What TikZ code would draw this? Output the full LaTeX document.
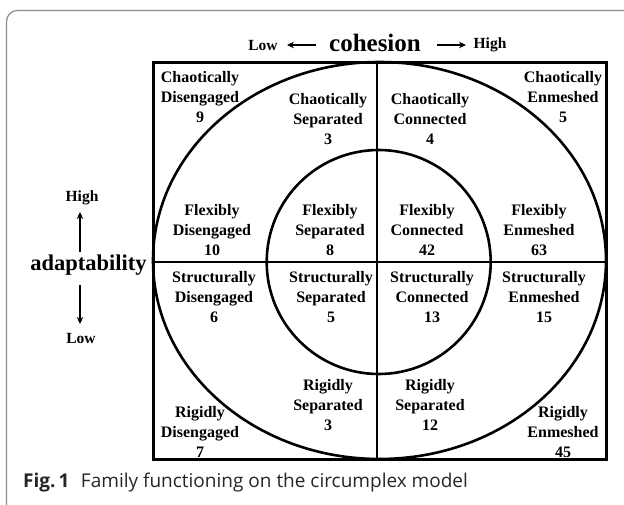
\documentclass[tikz,border=0pt]{standalone}
\usepackage{fontspec}
\setmainfont{Liberation Serif}
\newfontfamily\capfont{Open Sans}
\usetikzlibrary{arrows.meta}
\begin{document}
\begin{tikzpicture}[x=1pt,y=-1pt,
  cell/.style={align=center,inner sep=0pt,font=\fontsize{16}{19.8}\selectfont\bfseries},
  small/.style={inner sep=0pt,font=\fontsize{15.5}{18}\selectfont\bfseries},
  axisarrow/.style={line width=2.4pt,-{Stealth[length=7pt,width=6.5pt]}},
  frame/.style={draw=black!45,line width=1.2pt,rounded corners=11pt}]
\useasboundingbox (0,0) rectangle (624,504);
\draw[frame] (6.5,10.5) rectangle (680,540);
% grid
\draw[line width=3pt] (153,62) rectangle (606,459);
\draw[line width=2.2pt] (377,62) -- (377,459);
\draw[line width=2.2pt] (153,262) -- (606,262);
\draw[line width=2.6pt] (379.5,260.5) ellipse [x radius=226.5pt, y radius=198.5pt];
\draw[line width=2.6pt] (378.7,262) circle [radius=112pt];
% axis labels
\node[inner sep=0pt,font=\fontsize{25}{25}\selectfont\bfseries] (coh) at (375,43) {cohesion};
\node[small] (clow) at (263,45) {Low};
\node[small] (chigh) at (490,45) {High};
\coordinate (la1) at (316,45); \coordinate (la2) at (287,45);
\coordinate (ra1) at (437,45); \coordinate (ra2) at (466,45);
\draw[axisarrow] (la1) -- (la2);
\draw[axisarrow] (ra1) -- (ra2);
\node[inner sep=0pt,font=\fontsize{22.5}{22.5}\selectfont\bfseries] (ada) at (88.5,265) {adaptability};
\node[small] (ahigh) at (82,198) {High};
\node[small] (alow) at (81,338) {Low};
\coordinate (ua1) at (80,252); \coordinate (ua2) at (80,212);
\coordinate (da1) at (80,285); \coordinate (da2) at (80,324);
\draw[axisarrow] (ua1) -- (ua2);
\draw[axisarrow] (da1) -- (da2);
% cells
\node[cell] (cd) at (200,97) {Chaotically\\Disengaged\\9};
\node[cell] (cs) at (328,119) {Chaotically\\Separated\\3};
\node[cell] (cc) at (430,119) {Chaotically\\Connected\\4};
\node[cell] (ce) at (563,97) {Chaotically\\Enmeshed\\5};
\node[cell] (fd) at (212,230) {Flexibly\\Disengaged\\10};
\node[cell] (fs) at (330,230) {Flexibly\\Separated\\8};
\node[cell] (fc) at (427,230) {Flexibly\\Connected\\42};
\node[cell] (fe) at (539,230) {Flexibly\\Enmeshed\\63};
\node[cell] (sd) at (214,297) {Structurally\\Disengaged\\6};
\node[cell] (ss) at (331,297) {Structurally\\Separated\\5};
\node[cell] (sc) at (432,297) {Structurally\\Connected\\13};
\node[cell] (se) at (544,297) {Structurally\\Enmeshed\\15};
\node[cell] (rs) at (328,405) {Rigidly\\Separated\\3};
\node[cell] (rc) at (430,405) {Rigidly\\Separated\\12};
\node[cell] (rd) at (200,432) {Rigidly\\Disengaged\\7};
\node[cell] (re) at (563,432) {Rigidly\\Enmeshed\\45};
% caption
\node[anchor=west,inner sep=0pt,font=\capfont\fontsize{19}{19}\selectfont,text=black!85] (cap) at (23,483)
  {\textbf{Fig.\,1}\hspace{0.6em}Family functioning on the circumplex model};
\end{tikzpicture}
\end{document}
